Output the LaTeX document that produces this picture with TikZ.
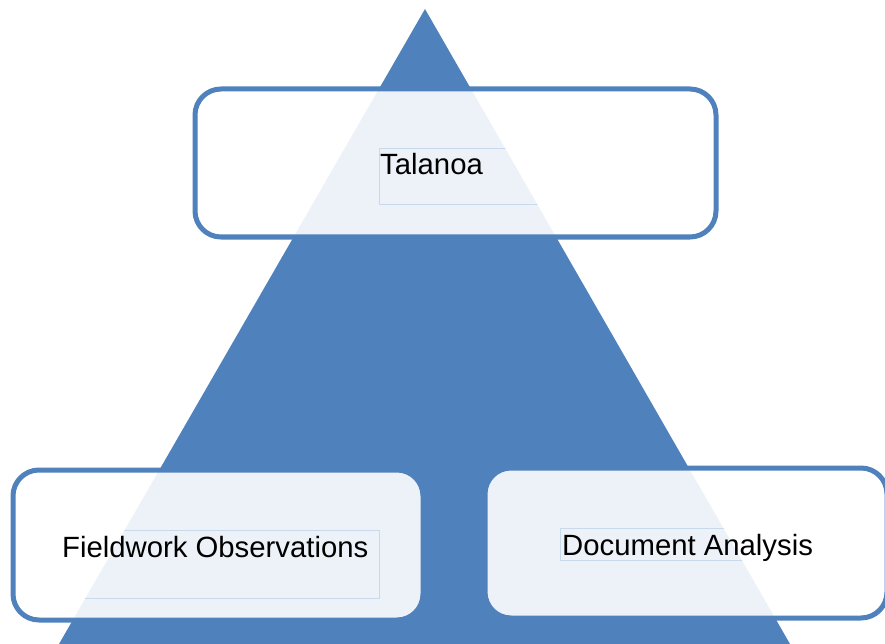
\documentclass[tikz,border=0pt]{standalone}
\usepackage{fontspec}
\setmainfont{Liberation Sans}
\definecolor{triblue}{HTML}{4F81BD}
\definecolor{faint}{HTML}{C8D9EC}
\begin{document}
\begin{tikzpicture}[x=1pt,y=-1pt,
  methodbox/.style={draw=triblue, line width=5pt, fill=white, fill opacity=0.9, draw opacity=1,
    rounded corners=26pt, minimum width=#1, inner sep=0pt},
  label/.style={anchor=base west, inner sep=0pt, font=\fontsize{29.3}{34}\selectfont, text=black},
  textframe/.style={draw=faint, line width=0.8pt}]
\useasboundingbox (0,0) rectangle (885,644);
\clip (0,0) rectangle (885,644);
% pyramid
\coordinate (apex) at (425,9);
\coordinate (bl) at (59,644);
\coordinate (br) at (790,644);
\fill[triblue] (apex) -- (bl) -- (br) -- cycle;
% boxes
\node[methodbox=521pt, minimum height=148pt] (topbox) at (455.5,163) {};
\node[methodbox=410pt, minimum height=150pt] (leftbox) at (218,545) {};
\node[methodbox=402pt, minimum height=150pt] (rightbox) at (686,543) {};
% faint text frames, visible over the pyramid only
\begin{scope}
  \clip (apex) -- (bl) -- (br) -- cycle;
  \draw[textframe] (379,148) rectangle (560,204);
  \draw[textframe] (30,530) rectangle (379,598);
  \draw[textframe] (560,528) rectangle (820,560);
\end{scope}
% labels
\node[label] (talanoa) at (380,175) {Talanoa};
\node[label] (fieldwork) at (62,557) {Fieldwork Observations};
\node[label] (document) at (562,555) {Document Analysis};
\end{tikzpicture}
\end{document}
